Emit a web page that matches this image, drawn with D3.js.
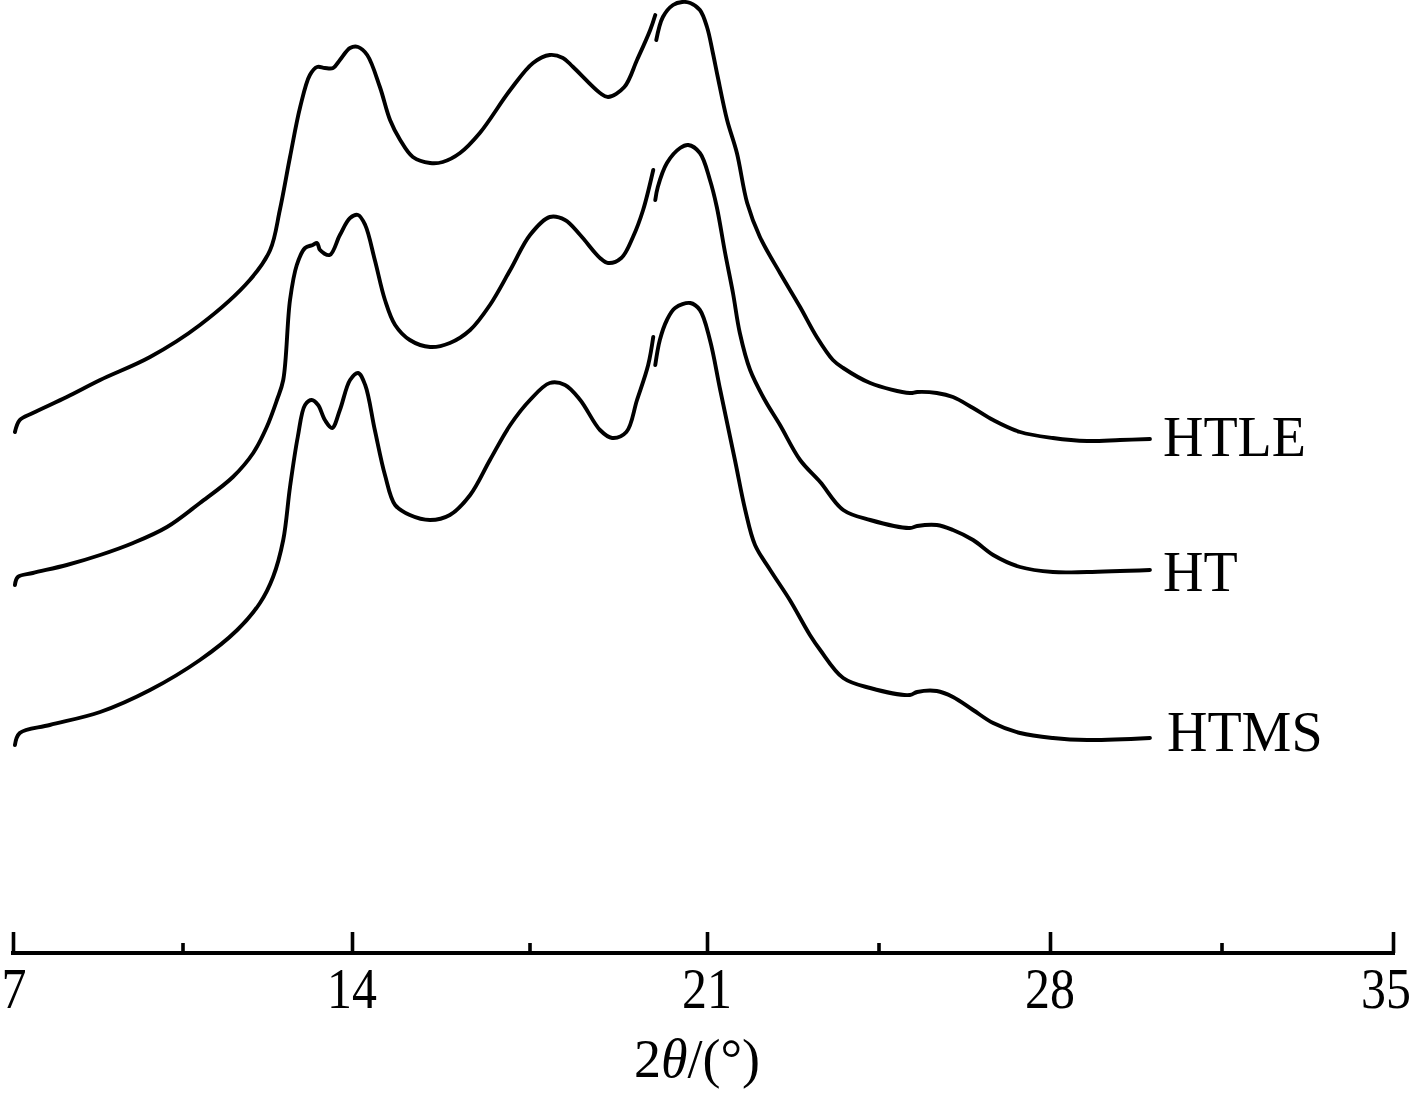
<!DOCTYPE html>
<html>
<head>
<meta charset="utf-8">
<script src="https://cdn.jsdelivr.net/npm/d3@7/dist/d3.min.js"></script>
<style>
  html, body { margin: 0; padding: 0; background: #fff; }
  svg { display: block; }
  text { font-family: "Liberation Serif", "Times New Roman", serif; fill: #000; }
</style>
</head>
<body>
<svg id="chart" width="1415" height="1097"></svg>
<script>
// ---- data (2θ in degrees, intensity in arbitrary units) ----
const seriesNames = ["HTLE", "HT", "HTMS"];
const seriesOffsets = [300, 170, 0]; // vertical stacking offset, a.u.

const htle = [
  [7.04,221],[7.14,233],[7.41,240],[8.11,256],[8.80,273],[9.83,296],[10.86,328],[11.89,373],
  [12.31,403],[12.51,443],[12.72,496],[12.93,546],[13.13,578],[13.28,586],[13.44,585],[13.61,585],
  [13.75,593],[13.96,605],[14.12,606],[14.30,598],[14.55,566],[14.75,533],[14.95,513],[15.20,496],
  [15.54,490],[15.79,491],[16.13,500],[16.52,520],[17.12,563],[17.57,590],[17.90,598],[18.16,595],
  [18.36,586],[18.89,560],[19.05,556],[19.37,566],[19.62,593],[19.88,623],[19.98,638],[19.99,null],
  [20.00,613],[20.13,636],[20.33,648],[20.51,651],[20.67,650],[20.86,643],[21.00,626],[21.12,600],
  [21.22,576],[21.41,533],[21.61,500],[21.82,450],[22.08,416],[22.49,380],[22.90,346],[23.24,316],
  [23.57,293],[23.78,285],[24.33,270],[25.14,260],[25.29,261],[25.69,260],[26.02,256],[26.43,245],
  [26.84,233],[27.39,221],[28.06,215],[28.76,212],[29.43,213],[30.04,214]
];
const ht = [
  [7.04,198],[7.10,206],[7.41,210],[8.11,218],[8.80,228],[9.48,240],[10.18,256],[10.86,280],
  [11.54,306],[11.96,330],[12.24,356],[12.45,383],[12.58,403],[12.72,483],[12.86,518],[13.03,535],
  [13.19,538],[13.28,540],[13.34,533],[13.54,528],[13.75,548],[13.96,565],[14.12,568],[14.26,558],
  [14.45,523],[14.65,483],[14.85,458],[15.14,443],[15.54,436],[15.93,440],[16.33,453],[16.72,478],
  [17.12,513],[17.51,548],[17.90,566],[18.20,563],[18.50,548],[18.89,525],[19.05,520],[19.31,525],
  [19.54,546],[19.74,573],[19.94,613],[19.96,null],[19.98,583],[20.03,596],[20.21,620],[20.47,635],
  [20.63,638],[20.86,630],[21.06,603],[21.20,576],[21.37,530],[21.53,490],[21.67,450],[21.88,413],
  [22.18,383],[22.49,358],[22.90,323],[23.31,301],[23.78,273],[24.33,263],[25.14,255],[25.29,257],
  [25.69,258],[26.02,253],[26.43,243],[26.84,228],[27.39,216],[28.06,211],[28.76,211],[30.04,213]
];
const htms = [
  [7.04,208],[7.14,220],[7.76,228],[8.80,241],[9.83,263],[10.86,293],[11.63,323],[12.10,350],
  [12.37,376],[12.58,413],[12.72,466],[12.88,516],[13.03,548],[13.17,553],[13.30,548],[13.44,533],
  [13.59,525],[13.75,543],[13.96,573],[14.12,580],[14.26,568],[14.45,523],[14.65,478],[14.85,448],
  [15.14,438],[15.54,433],[15.93,438],[16.33,458],[16.72,493],[17.12,528],[17.51,553],[17.90,570],
  [18.20,568],[18.50,553],[18.89,523],[19.13,515],[19.41,521],[19.62,553],[19.84,588],[19.94,616],
  [19.96,null],[19.98,588],[20.07,613],[20.21,633],[20.37,645],[20.67,650],[20.86,643],[21.06,613],
  [21.27,563],[21.57,493],[21.78,443],[21.98,408],[22.29,383],[22.69,353],[23.10,318],[23.31,303],
  [23.78,275],[24.33,265],[25.14,258],[25.29,261],[25.69,262],[26.02,256],[26.43,243],[26.84,230],
  [27.39,220],[28.06,215],[28.76,213],[30.04,215]
];
const seriesData = [htle, ht, htms];

const majorTicks = [7, 14, 21, 28, 35];
const minorTicks = [10.5, 17.5, 24.5, 31.5];
const xLabelMain = "2";
const xLabelTheta = "θ";
const xLabelUnit = "/(°)";

// ---- layout ----
const svg = d3.select("#chart");
const axisY = 953;
const x = d3.scaleLinear().domain(majorTicks).range([13, 352, 707, 1050, 1393]);
const y = d3.scaleLinear().domain([0, 953]).range([953, 0]);

const line = d3.line()
  .defined(d => d[1] !== null)
  .x(d => x(d[0]))
  .y(d => y(d[1] + d.off))
  .curve(d3.curveCatmullRom.alpha(0.5));

seriesData.forEach((arr, i) => {
  const pts = arr.map(p => { const q = [p[0], p[1]]; q.off = seriesOffsets[i]; return q; });
  svg.append("path")
    .attr("d", line(pts))
    .attr("fill", "none")
    .attr("stroke", "#000")
    .attr("stroke-width", 3.9)
    .attr("stroke-linejoin", "round")
    .attr("stroke-linecap", "round");
  const last = arr[arr.length - 1];
  const labelDy = [17, 21, 13][i];
  svg.append("text")
    .attr("x", x(last[0]) + (i === 2 ? 17 : 13))
    .attr("y", y(last[1] + seriesOffsets[i]) + labelDy)
    .attr("font-size", 56)
    .text(seriesNames[i]);
});

// ---- x axis ----
const axisG = svg.append("g").attr("transform", `translate(0,${axisY})`);
const axisMajor = d3.axisTop(x).tickValues(majorTicks).tickSize(21).tickFormat("");
const axisMinor = d3.axisTop(x).tickValues(minorTicks).tickSize(10).tickFormat("");
axisG.append("g").call(axisMajor);
axisG.append("g").call(axisMinor);
axisG.selectAll("path.domain").attr("stroke", "#000").attr("stroke-width", 4)
  .attr("d", `M${x(7) - 2},0H${x(35) + 2}`);
axisG.selectAll(".tick line").attr("stroke", "#000").attr("stroke-width", 3.6);

axisG.selectAll("text.ticklbl")
  .data(majorTicks)
  .enter().append("text")
  .attr("class", "ticklbl")
  .attr("transform", d => `translate(${x(d) + (d === 35 ? -7 : d === 7 ? 1 : 0)},55) scale(0.86,1)`)
  .attr("text-anchor", "middle")
  .attr("font-size", 58)
  .text(d => d);

const xl = svg.append("text")
  .attr("x", 697)
  .attr("y", 1077)
  .attr("text-anchor", "middle")
  .attr("font-size", 54);
xl.append("tspan").text(xLabelMain);
xl.append("tspan").attr("font-style", "italic").text(xLabelTheta);
xl.append("tspan").text(xLabelUnit);
</script>
</body>
</html>
